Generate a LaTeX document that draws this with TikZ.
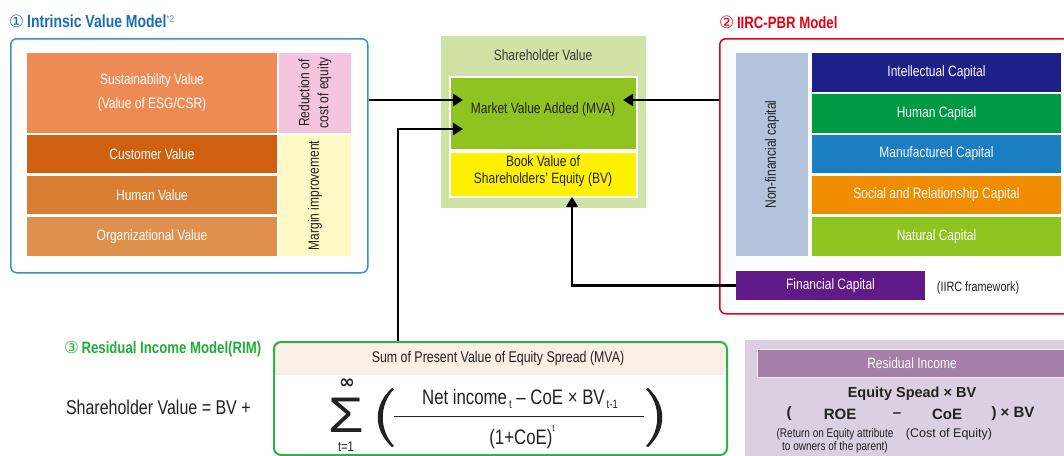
\documentclass[tikz,border=0pt]{standalone}
\usepackage{fontspec}
\usepackage{graphicx}
\setmainfont{Liberation Sans}[FakeStretch=0.8]
\newfontfamily\widefont{Liberation Sans}
\newfontfamily\symfont{DejaVu Sans}
\usetikzlibrary{arrows.meta}
\newcommand\fsz[2]{\fontsize{#1}{#2}\selectfont}
\definecolor{ivmblue}{HTML}{1A6DB5}
\definecolor{ivmline}{HTML}{3A8DD0}
\definecolor{sust}{HTML}{EE8B55}
\definecolor{cust}{HTML}{CF600F}
\definecolor{humv}{HTML}{DA7E34}
\definecolor{orgv}{HTML}{DF904D}
\definecolor{pinkc}{HTML}{F4C5DE}
\definecolor{yelc}{HTML}{FFF9C6}
\definecolor{svbg}{HTML}{D0E3A4}
\definecolor{mvac}{HTML}{8FC31F}
\definecolor{bvy}{HTML}{FFF100}
\definecolor{iircred}{HTML}{E60012}
\definecolor{nonfin}{HTML}{B4C3DC}
\definecolor{intel}{HTML}{1D2088}
\definecolor{humc}{HTML}{009944}
\definecolor{manu}{HTML}{1B7EC2}
\definecolor{soc}{HTML}{F08C00}
\definecolor{nat}{HTML}{8FC31F}
\definecolor{finc}{HTML}{601986}
\definecolor{rimgreen}{HTML}{2BB24A}
\definecolor{rimtitle}{HTML}{22AC38}
\definecolor{band}{HTML}{FCF0E6}
\definecolor{purbg}{HTML}{DDCFE2}
\definecolor{purhead}{HTML}{A67FA8}
\definecolor{dark}{HTML}{222222}
\begin{document}
\begin{tikzpicture}[x=1pt,y=-1pt,
  blk/.style={inner sep=0pt,outer sep=0pt,anchor=north west,align=center,text=white,font=\fsz{15}{24}},
  txt/.style={inner sep=0pt,outer sep=0pt,text=dark,align=center},
  arr/.style={line width=2.6pt,-{Triangle[length=10pt,width=12pt]}},
]
\path[use as bounding box, clip] (0,0) rectangle (1064,455);

% ---------- titles
\node[txt,anchor=west,text=ivmblue,font=\fsz{17.5}{20}\bfseries] (t1) at (9,21)
  {{\symfont\mdseries\fsz{17}{18}①}\,Intrinsic Value Model\raisebox{0.55ex}{\fsz{10}{10}\mdseries\color{ivmblue!75} *2}};
\node[txt,anchor=west,text=iircred,font=\fsz{16.5}{20}\bfseries] (t2) at (719,22)
  {{\symfont\mdseries\fsz{17}{18}②}\,IIRC-PBR Model};
\node[txt,anchor=west,text=rimtitle,font=\fsz{16.5}{20}\bfseries] (t3) at (64,349)
  {{\symfont\mdseries\fsz{16.5}{18}③}\,Residual Income Model(RIM)};

% ---------- (1) intrinsic value model
\node[draw=ivmline,line width=1.5pt,rounded corners=6pt,minimum width=357pt,minimum height=234pt,anchor=north west,inner sep=0pt] (ivm) at (10,38) {};
\node[blk,fill=sust,minimum width=250pt,minimum height=80pt] (sust) at (27,53) {Sustainability Value\\(Value of ESG/CSR)};
\node[blk,fill=cust,minimum width=250pt,minimum height=38pt] (cust) at (27,135) {Customer Value};
\node[blk,fill=humv,minimum width=250pt,minimum height=38pt] (humv) at (27,176) {Human Value};
\node[blk,fill=orgv,minimum width=250pt,minimum height=39pt] (orgv) at (27,217) {Organizational Value};
\node[blk,fill=pinkc,minimum width=72pt,minimum height=80pt] (pink) at (279,53) {};
\node[txt,rotate=90,font=\fsz{15}{19}] (pinkt) at (pink.center) {Reduction of\\cost of equity};
\node[blk,fill=yelc,minimum width=72pt,minimum height=121pt] (yel) at (279,135) {};
\node[txt,rotate=90,font=\fsz{15}{19}] (yelt) at (yel.center) {Margin improvement};

% ---------- shareholder value
\node[blk,fill=svbg,minimum width=205pt,minimum height=172pt] (sv) at (441,36) {};
\node[txt,font=\fsz{15}{18},text=dark!90] (svt) at (543,55) {Shareholder Value};
\node[blk,fill=mvac,draw=white,line width=1.2pt,minimum width=187pt,minimum height=73pt] (mva) at (450,77) {};
\node[txt,font=\fsz{15}{18}] (mvat) at (543,110) {Market Value Added (MVA)};
\node[blk,fill=bvy,draw=white,line width=1.2pt,minimum width=187pt,minimum height=45pt] (bv) at (450,152) {};
\node[txt,font=\fsz{15}{16.5}] (bvt) at (543,171) {Book Value of\\Shareholders’ Equity (BV)};

% ---------- (2) IIRC-PBR
\node[draw=iircred,line width=1.5pt,rounded corners=6pt,minimum width=380pt,minimum height=275pt,anchor=north west,inner sep=0pt] (iirc) at (719,38) {};
\node[blk,fill=nonfin,minimum width=72pt,minimum height=203pt] (nonfin) at (736,53) {};
\node[txt,rotate=90,font=\fsz{15}{18}] (nonfint) at (nonfin.center) {Non-financial capital};
\node[blk,fill=intel,minimum width=249pt,minimum height=39pt] (intel) at (812,53) {Intellectual Capital};
\node[blk,fill=humc,minimum width=249pt,minimum height=39pt] (humc) at (812,94) {Human Capital};
\node[blk,fill=manu,minimum width=249pt,minimum height=38pt] (manu) at (812,135) {Manufactured Capital};
\node[blk,fill=soc,minimum width=249pt,minimum height=38pt] (soc) at (812,176) {Social and Relationship Capital};
\node[blk,fill=nat,minimum width=249pt,minimum height=39pt] (nat) at (812,217) {Natural Capital};
\node[blk,fill=finc,minimum width=189pt,minimum height=29pt] (fin) at (736,271) {Financial Capital};
\node[txt,font=\fsz{13.5}{16}] (fw) at (978,288) {(IIRC framework)};

% ---------- (3) residual income model
\begin{scope}
  \clip[rounded corners=7pt] (273,341) rectangle (726,454);
  \fill[band] (273,341) rectangle (726,375);
\end{scope}
\node[draw=rimgreen,line width=2pt,rounded corners=7pt,minimum width=453pt,minimum height=113pt,anchor=north west,inner sep=0pt] (rim) at (273,341) {};
\node[txt,font=\fsz{15.5}{18}] (rimh) at (498,358) {Sum of Present Value of Equity Spread (MVA)};
\node[txt,anchor=west,font=\fsz{20}{24}] (sveq) at (66,407) {Shareholder Value = BV +};
\node[txt,anchor=base,font=\widefont\fsz{50}{50}] (sig) at (346,432) {\scalebox{1.15}[1]{Σ}};
\node[txt,font=\symfont\fsz{19}{20}\bfseries] (inf) at (347,384) {∞};
\node[txt,font=\fsz{14}{16}] (t1s) at (346,447) {t=1};
\fill[dark] (392,388) .. controls (373,405) and (373,430) .. (392,447) -- (394,446) .. controls (379,430) and (379,405) .. (394,389) -- cycle;
\fill[dark] (648,388) .. controls (667,405) and (667,430) .. (648,447) -- (646,446) .. controls (661,430) and (661,405) .. (646,389) -- cycle;
\node[txt,font=\fsz{21}{24}] (num) at (520,399) {Net income\raisebox{-0.35ex}{\fsz{12}{12}\,t} – CoE × BV\raisebox{-0.35ex}{\fsz{12}{12}\,t-1}};
\coordinate (fl) at (394,416);
\coordinate (fr) at (644,416);
\draw[dark,line width=1pt] (fl) -- (fr);
\node[txt,font=\fsz{21}{24}] (den) at (522,437) {(1+CoE)\raisebox{1.1ex}{\fsz{10}{10}t}};

% ---------- residual income box
\node[blk,fill=purbg,minimum width=330pt,minimum height=120pt] (rib) at (745,340) {};
\node[blk,fill=purhead,draw=white!85!purhead,line width=0.8pt,minimum width=320pt,minimum height=28pt] (rih) at (757,349) {};
\node[txt,text=white,font=\fsz{15}{18}] (riht) at (912,363) {Residual Income};
\node[txt,font=\widefont\fsz{14.5}{17}\bfseries] (es) at (912,394) {Equity Spead × BV};
\node[txt,font=\widefont\fsz{15}{17}\bfseries] (r1) at (789,414) {(};
\node[txt,font=\widefont\fsz{15}{17}\bfseries] (r2) at (840,414) {ROE};
\node[txt,font=\widefont\fsz{15}{17}\bfseries] (r3) at (897,415) {–};
\node[txt,font=\widefont\fsz{15}{17}\bfseries] (r4) at (947,414) {CoE};
\node[txt,font=\widefont\fsz{15}{17}\bfseries] (r5) at (1013,414) {) × BV};
\node[txt,font=\fsz{12.5}{12.5}] (roe) at (835,441) {(Return on Equity attribute\\ to owners of the parent)};
\node[txt,font=\widefont\fsz{12.5}{14}] (coe) at (949,434.5) {(Cost of Equity)};

% ---------- connectors
\coordinate (in1) at (463,100);
\coordinate (in2) at (623,100);
\coordinate (in3) at (463,129);
\coordinate (c3) at (398,0);
\coordinate (c4) at (572,0);
\draw[arr] (ivm.east |- in1) -- (in1);
\draw[arr] (iirc.west |- in2) -- (in2);
\draw[arr] (rim.north -| c3) |- (in3);
\draw[arr] (fin.west) -| (bv.south -| c4);
\end{tikzpicture}
\end{document}
